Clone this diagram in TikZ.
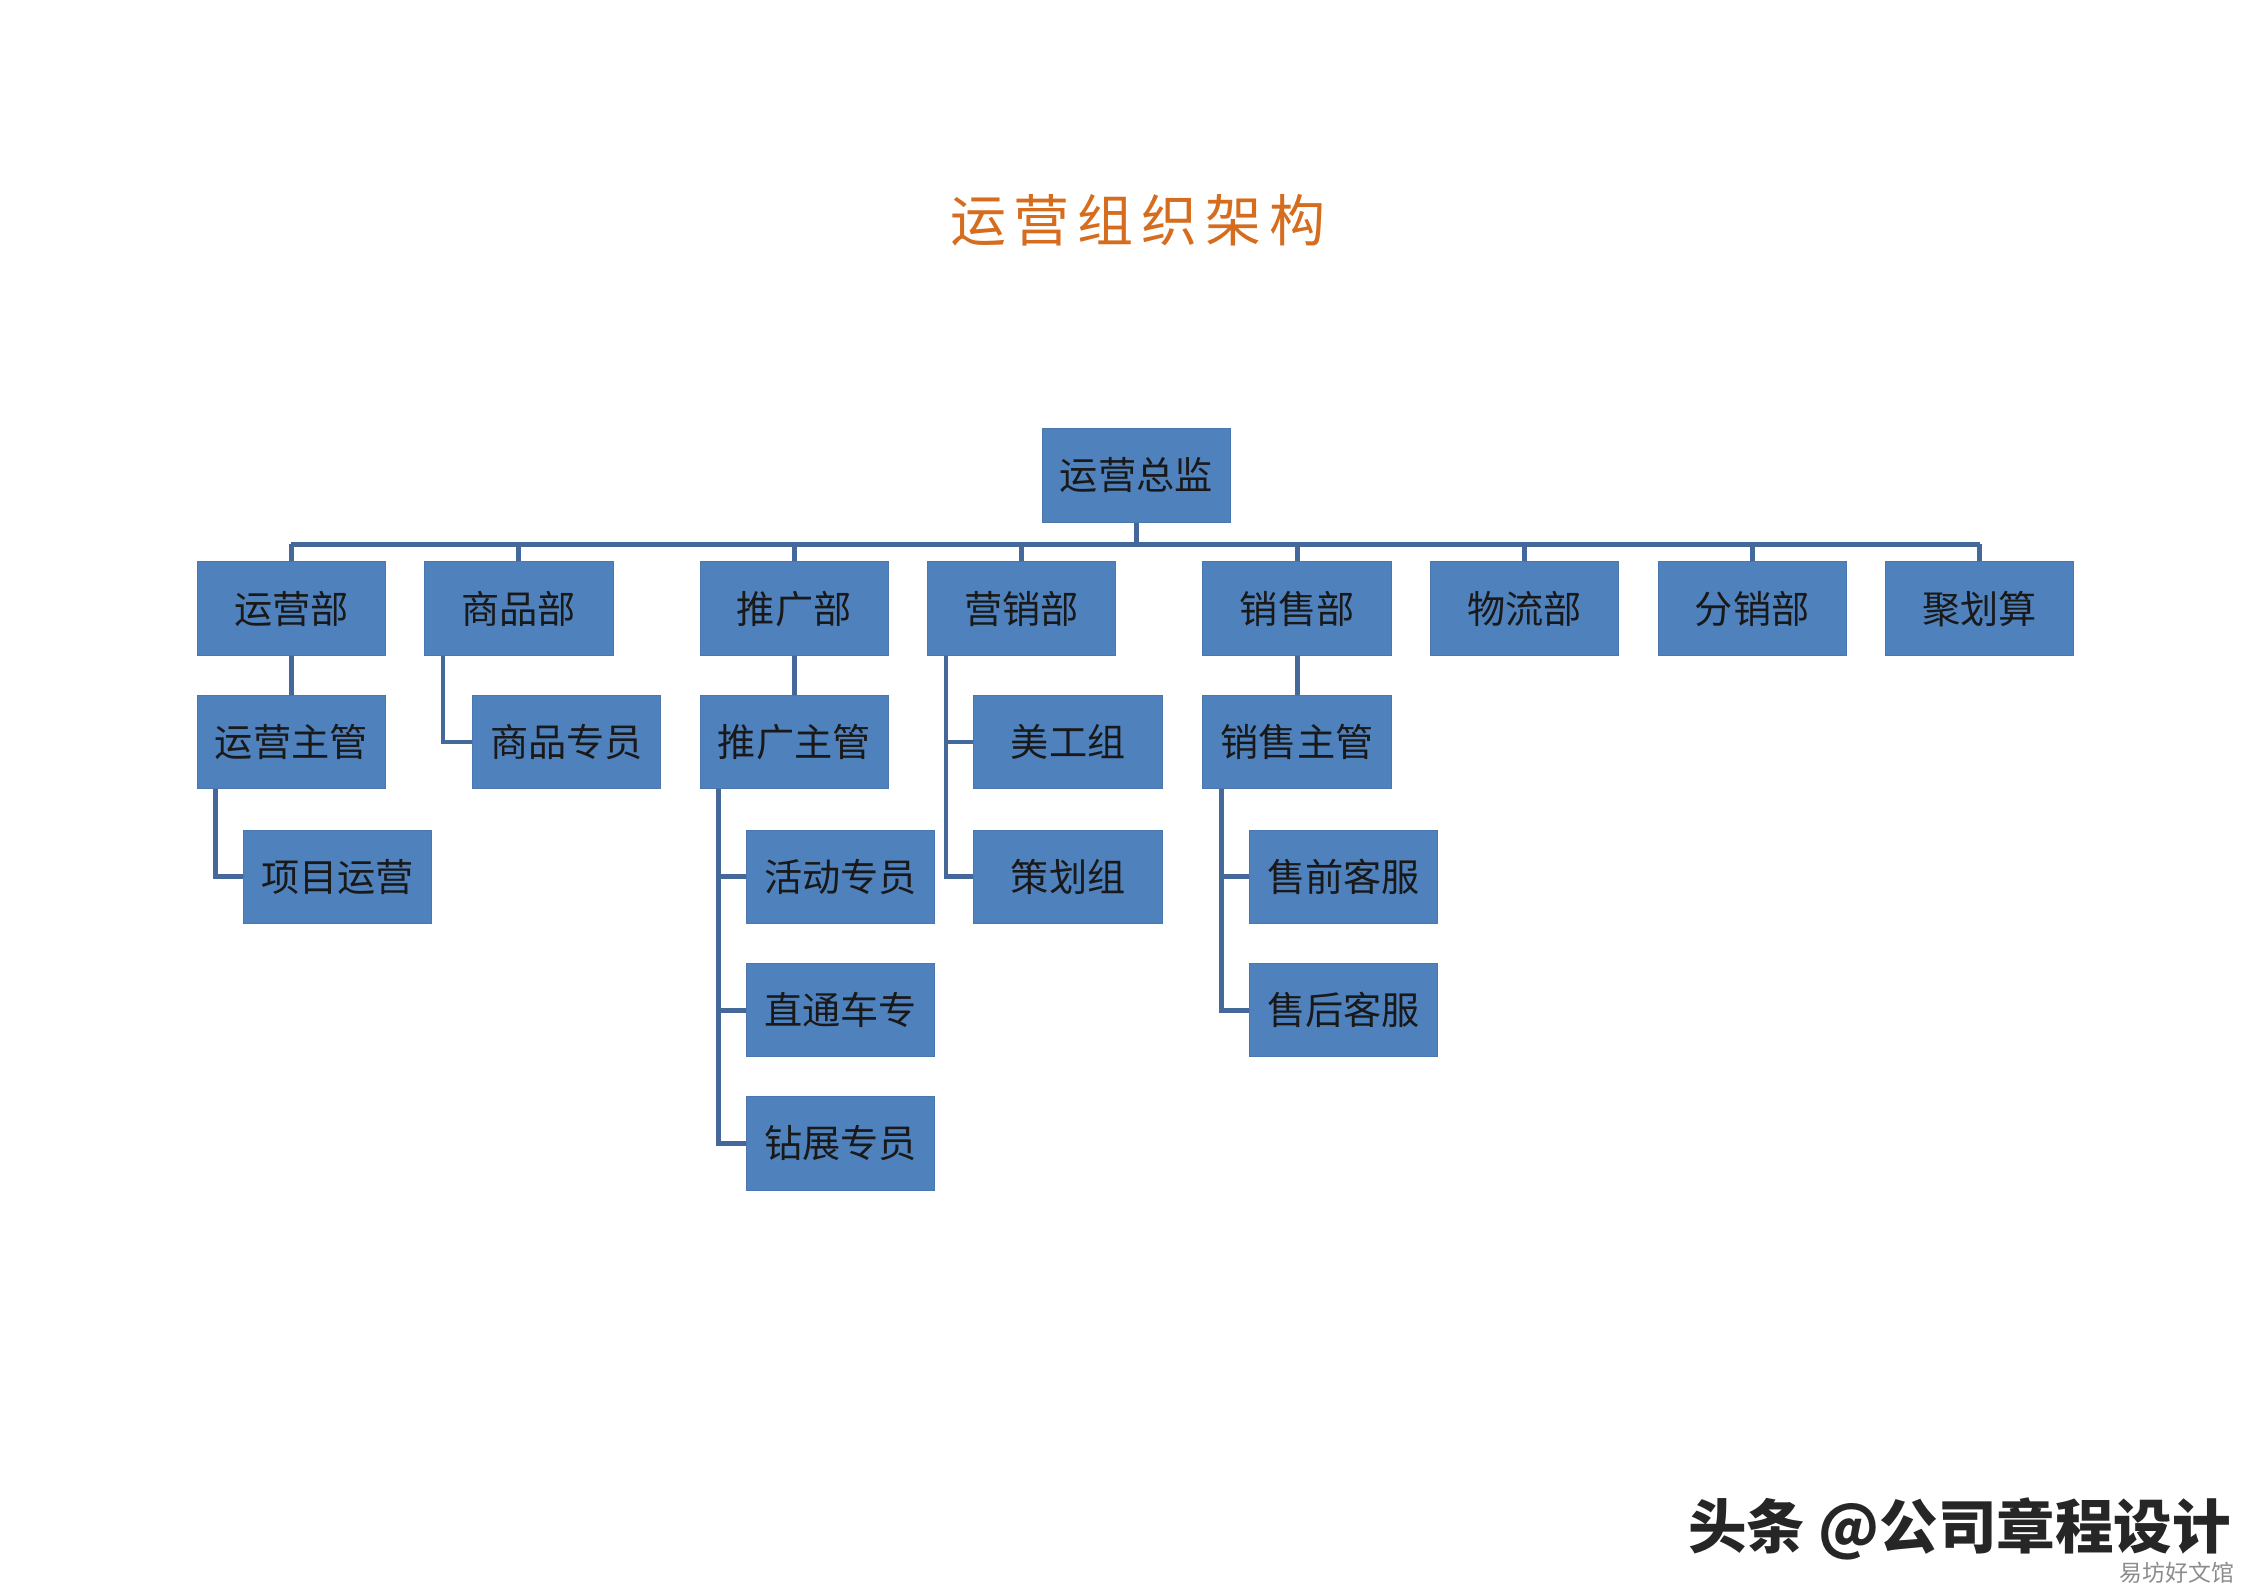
\documentclass[tikz,border=0pt]{standalone}
\usepackage{fontspec}
\newfontfamily\cjk{Noto Sans CJK SC}
\newfontfamily\titlefont[LetterSpace=14]{Noto Sans CJK SC}
\definecolor{boxblue}{RGB}{79,129,189}
\definecolor{lineblue}{RGB}{68,104,154}
\definecolor{titleorange}{RGB}{214,108,30}
\begin{document}
\begin{tikzpicture}[
			x=0.02cm, y=-0.02cm,
			box/.style={rectangle, fill=boxblue, draw=boxblue!92!black, line width=0.4pt,
				minimum width=2.6cm, minimum height=1.29cm, inner sep=0pt,
				font=\cjk\fontsize{15}{18}\selectfont, text=black!90},
			link/.style={draw=lineblue, line width=1.9pt}
		]
		\useasboundingbox (0,0) rectangle (1549,1095);

		\node[font=\titlefont\fontsize{22}{26}\selectfont, text=titleorange] (title) at (785,152) {运营组织架构};

		% top
		\node[box] (zj) at (784,328) {运营总监};

		% departments
		\node[box] (yyb) at (201,420) {运营部};
		\node[box] (spb) at (358,420) {商品部};
		\node[box] (tgb) at (548,420) {推广部};
		\node[box] (yxb) at (705,420) {营销部};
		\node[box] (xsb) at (895,420) {销售部};
		\node[box] (wlb) at (1052,420) {物流部};
		\node[box] (fxb) at (1209,420) {分销部};
		\node[box] (jhs) at (1366,420) {聚划算};

		% second row
		\node[box] (yyzg) at (201,512) {运营主管};
		\node[box] (spzy) at (391,512) {商品专员};
		\node[box] (tgzg) at (548,512) {推广主管};
		\node[box] (mgz)  at (737,512) {美工组};
		\node[box] (xszg) at (895,512) {销售主管};

		% lower rows
		\node[box] (xmyy) at (233,605) {项目运营};
		\node[box] (hdzy) at (580,605) {活动专员};
		\node[box] (chz)  at (737,605) {策划组};
		\node[box] (sqkf) at (927,605) {售前客服};
		\node[box] (ztc)  at (580,697) {直通车专};
		\node[box] (shkf) at (927,697) {售后客服};
		\node[box] (zzzy) at (580,789) {钻展专员};

		% bus
		\draw[link] (zj.south) -- ++(0,15) coordinate (bus);
		\draw[link] (yyb.north |- bus) -- (jhs.north |- bus);
		\foreach \d in {yyb,spb,tgb,yxb,xsb,wlb,fxb,jhs}
			\draw[link] (\d.north) -- (\d.north |- bus);

		% straight links
		\draw[link] (yyb) -- (yyzg);
		\draw[link] (tgb) -- (tgzg);
		\draw[link] (xsb) -- (xszg);

		% side links
		\draw[link] ([xshift=0.26cm]spb.south west) |- (spzy.west);
		\draw[link] ([xshift=0.26cm]yyzg.south west) |- (xmyy.west);
		\foreach \c in {hdzy,ztc,zzzy}
			\draw[link] ([xshift=0.26cm]tgzg.south west) |- (\c.west);
		\foreach \c in {mgz,chz}
			\draw[link] ([xshift=0.26cm]yxb.south west) |- (\c.west);
		\foreach \c in {sqkf,shkf}
			\draw[link] ([xshift=0.26cm]xszg.south west) |- (\c.west);

		% watermark
		\node[font=\cjk\bfseries\fontsize{23}{26}\selectfont, text=black!85] (wm) at (1352,1055) {头条 @公司章程设计};
		\node[font=\cjk\fontsize{9}{10}\selectfont, text=black!45, anchor=east] (src) at (1548,1085) {易坊好文馆};
	\end{tikzpicture}
\end{document}
